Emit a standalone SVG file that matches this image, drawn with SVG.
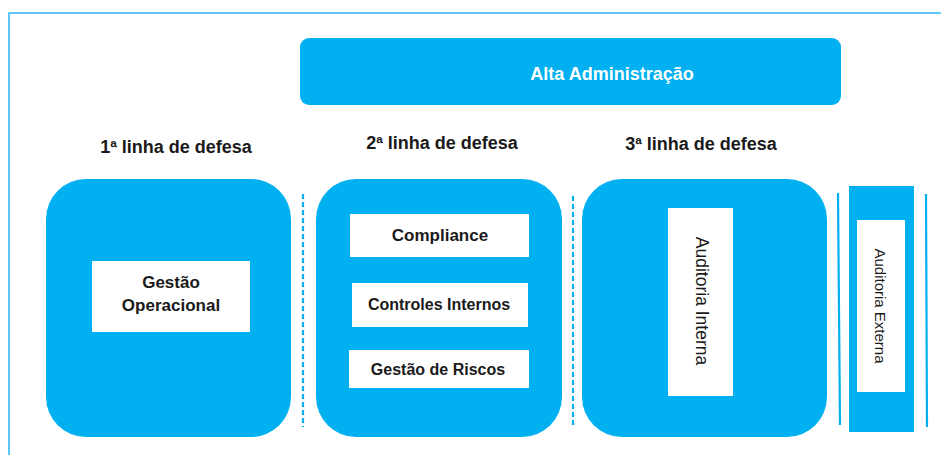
<svg xmlns="http://www.w3.org/2000/svg" width="941" height="455" viewBox="0 0 941 455">
<style>
.blue{fill:#00B0F0}
.white{fill:#ffffff}
.t{font-family:"Liberation Sans",Arial,sans-serif;fill:#1a1a1a;text-anchor:middle}
.b{font-weight:bold}
.hd{font-family:"Liberation Sans",Arial,sans-serif;font-weight:bold;font-size:18px;fill:#1a1a1a;text-anchor:middle}
.dash{stroke:#00B0F0;stroke-width:2.2;stroke-dasharray:5,3;fill:none}
.solid{stroke:#00B0F0;stroke-width:2.2;fill:none}
</style>
<rect width="941" height="455" fill="#ffffff"/>
<path d="M9,455 V13 H941" fill="none" stroke="#29B6F6" stroke-width="1.5"/>

<g id="alta">
<rect class="blue" x="300" y="38" width="541" height="67" rx="9"/>
<text x="612" y="80" font-family="Liberation Sans, Arial, sans-serif" font-weight="bold" font-size="18" fill="#ffffff" text-anchor="middle">Alta Administração</text>
</g>

<text class="hd" x="176" y="153">1ª linha de defesa</text>
<text class="hd" x="442" y="149">2ª linha de defesa</text>
<text class="hd" x="701" y="150">3ª linha de defesa</text>

<g id="linha1">
<rect class="blue" x="46" y="179" width="245" height="258" rx="40"/>
<rect class="white" x="92" y="261" width="158" height="71"/>
<text class="t b" x="171" y="288" font-size="17">Gestão</text>
<text class="t b" x="171" y="311" font-size="17">Operacional</text>
</g>

<g id="linha2">
<rect class="blue" x="316" y="179" width="246" height="258" rx="40"/>
<rect class="white" x="350" y="214" width="179" height="43"/>
<text class="t b" x="440" y="241" font-size="17">Compliance</text>
<rect class="white" x="352" y="283" width="176" height="44"/>
<text class="t b" x="439" y="310" font-size="16">Controles Internos</text>
<rect class="white" x="349" y="350" width="180" height="38"/>
<text class="t b" x="438" y="375" font-size="16">Gestão de Riscos</text>
</g>

<g id="linha3">
<rect class="blue" x="582" y="179" width="245" height="258" rx="40"/>
<rect class="white" x="668" y="208" width="65" height="188"/>
<text class="t" transform="translate(702,301) rotate(90)" y="6" font-size="17.5">Auditoria Interna</text>
</g>

<g id="externa">
<rect class="blue" x="849" y="186" width="65" height="246"/>
<rect class="white" x="857" y="220" width="48" height="172"/>
<text class="t" transform="translate(880,306) rotate(90)" y="5.5" font-size="15">Auditoria Externa</text>
</g>

<g id="connectors">
<line class="dash" x1="303" y1="194" x2="303" y2="427"/>
<line class="dash" x1="573" y1="196" x2="573" y2="428"/>
<line class="solid" x1="838" y1="193" x2="840" y2="425"/>
<line class="solid" x1="926" y1="194" x2="927" y2="427"/>
</g>
</svg>
